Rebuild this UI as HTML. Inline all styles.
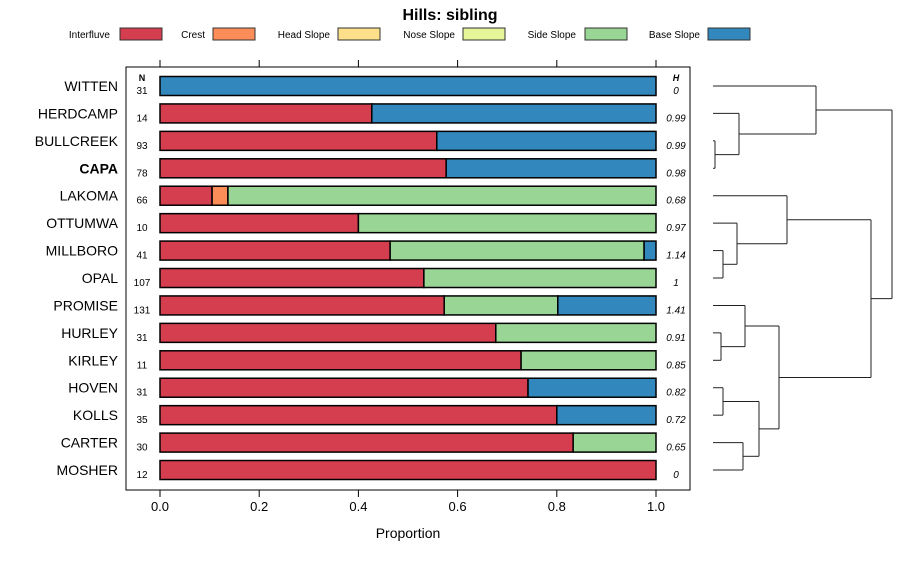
<!DOCTYPE html>
<html><head><meta charset="utf-8"><style>
body{margin:0;background:#fff;}
svg text{font-family:"Liberation Sans",Arial,sans-serif;}
</style></head><body>
<svg id="c" width="900" height="560" xmlns="http://www.w3.org/2000/svg">
<text x="450" y="20" text-anchor="middle" font-size="16" font-weight="bold">Hills: sibling</text>
<g id="legend"></g>
<rect x="126" y="67" width="564" height="423" fill="none" stroke="#000" stroke-width="1"/>
<g id="axes"></g>
<g id="bars"></g>
<g id="dendro"></g>
<text x="408" y="538" text-anchor="middle" font-size="14">Proportion</text>
</svg>
<script>
const categories=["WITTEN","HERDCAMP","BULLCREEK","CAPA","LAKOMA","OTTUMWA","MILLBORO","OPAL","PROMISE","HURLEY","KIRLEY","HOVEN","KOLLS","CARTER","MOSHER"];
const nValues=[31,14,93,78,66,10,41,107,131,31,11,31,35,30,12];
const hValues=["0","0.99","0.99","0.98","0.68","0.97","1.14","1","1.41","0.91","0.85","0.82","0.72","0.65","0"];
const seriesNames=["Interfluve","Crest","Head Slope","Nose Slope","Side Slope","Base Slope"];
const interfluve=[0,0.427,0.558,0.577,0.105,0.40,0.464,0.532,0.573,0.677,0.728,0.742,0.80,0.833,1];
const crest=[0,0,0,0,0.032,0,0,0,0,0,0,0,0,0,0];
const headSlope=[0,0,0,0,0,0,0,0,0,0,0,0,0,0,0];
const noseSlope=[0,0,0,0,0,0,0,0,0,0,0,0,0,0,0];
const sideSlope=[0,0,0,0,0.863,0.60,0.512,0.468,0.229,0.323,0.272,0,0,0.167,0];
const baseSlope=[1,0.573,0.442,0.423,0,0,0.024,0,0.198,0,0,0.258,0.20,0,0];
const xTicks=[0,0.2,0.4,0.6,0.8,1.0];
const xTickLabels=["0.0","0.2","0.4","0.6","0.8","1.0"];
const colors=["#D53E4F","#FC8D59","#FEE08B","#E6F598","#99D594","#3288BD"];
const series=[interfluve,crest,headSlope,noseSlope,sideSlope,baseSlope];
const NS="http://www.w3.org/2000/svg";
const xs=v=>160+v*496;
const ys=i=>86+i*27.43;
function mk(tag,attrs,parent,txt){const e=document.createElementNS(NS,tag);for(const k in attrs)e.setAttribute(k,attrs[k]);if(txt!==undefined)e.textContent=txt;parent.appendChild(e);return e;}
// legend
const lg=document.getElementById('legend');
const legPos=[[110,120],[205,213],[330,338],[455,463],[576,585],[700,708]];
seriesNames.forEach((s,i)=>{
 const t=mk('text',{x:legPos[i][0],y:38,'text-anchor':'end','font-size':10},lg,s);
 
 
 const r=mk('rect',{x:legPos[i][1],y:28,width:42,height:12,fill:colors[i],stroke:'#333','stroke-width':1},lg);
 
 
});
// axes
const ax=document.getElementById('axes');
xTicks.forEach((v,i)=>{
 const x=xs(v);
 const a=mk('line',{x1:x,x2:x,y1:60,y2:67,stroke:'#000'},ax);
 
 
 const b=mk('line',{x1:x,x2:x,y1:490,y2:497,stroke:'#000'},ax);
 
 
 const t=mk('text',{x:x,y:511,'text-anchor':'middle','font-size':13},ax,xTickLabels[i]);
 
 
});
const nh=mk('text',{x:142,y:81,'text-anchor':'middle','font-size':9,'font-weight':'bold'},ax,'N');


const hh=mk('text',{x:676,y:81,'text-anchor':'middle','font-size':9,'font-weight':'bold','font-style':'italic'},ax,'H');


// bars
const bg=document.getElementById('bars');
categories.forEach((c,i)=>{
 const y=ys(i);
 const lab=mk('text',{x:118,y:y+5,'text-anchor':'end','font-size':14,'font-weight':c==='CAPA'?'bold':'normal'},bg,c);
 
 
 const n=mk('text',{x:142,y:y+8,'text-anchor':'middle','font-size':10},bg,nValues[i]);
 
 
 const h=mk('text',{x:676,y:y+8,'text-anchor':'middle','font-size':10,'font-style':'italic'},bg,hValues[i]);
 
 
 let cum=0;
 series.forEach((s,k)=>{
  const v=s[i]; if(v<=0) return;
  const r=mk('rect',{x:xs(cum),y:y-9.5,width:v*496,height:19,fill:colors[k],stroke:'#000','stroke-width':1.5},bg);
  
  
  cum+=v;
 });
});
// dendrogram
const dg=document.getElementById('dendro');
function seg(x1,y1,x2,y2){const l=mk('line',{x1:x1,y1:y1,x2:x2,y2:y2,stroke:'#222','stroke-width':1},dg);
 
 }
function node(a,b,h){ // a,b: {x,y}
 seg(a.x,a.y,h,a.y);seg(b.x,b.y,h,b.y);seg(h,a.y,h,b.y);return {x:h,y:(a.y+b.y)/2};}
const L=i=>({x:713,y:ys(i)});
const bc=node(L(2),L(3),715);
const hb=node(L(1),bc,739);
const w=node(L(0),hb,816);
const mo=node(L(6),L(7),723);
const om=node(L(5),mo,737);
const lk=node(L(4),om,787);
const hk=node(L(9),L(10),721);
const ph=node(L(8),hk,745);
const hv=node(L(11),L(12),723);
const cm=node(L(13),L(14),743);
const hc=node(hv,cm,759);
const lo=node(ph,hc,779);
const mid=node(lk,lo,871);
node(w,mid,892);
</script>
</body></html>
